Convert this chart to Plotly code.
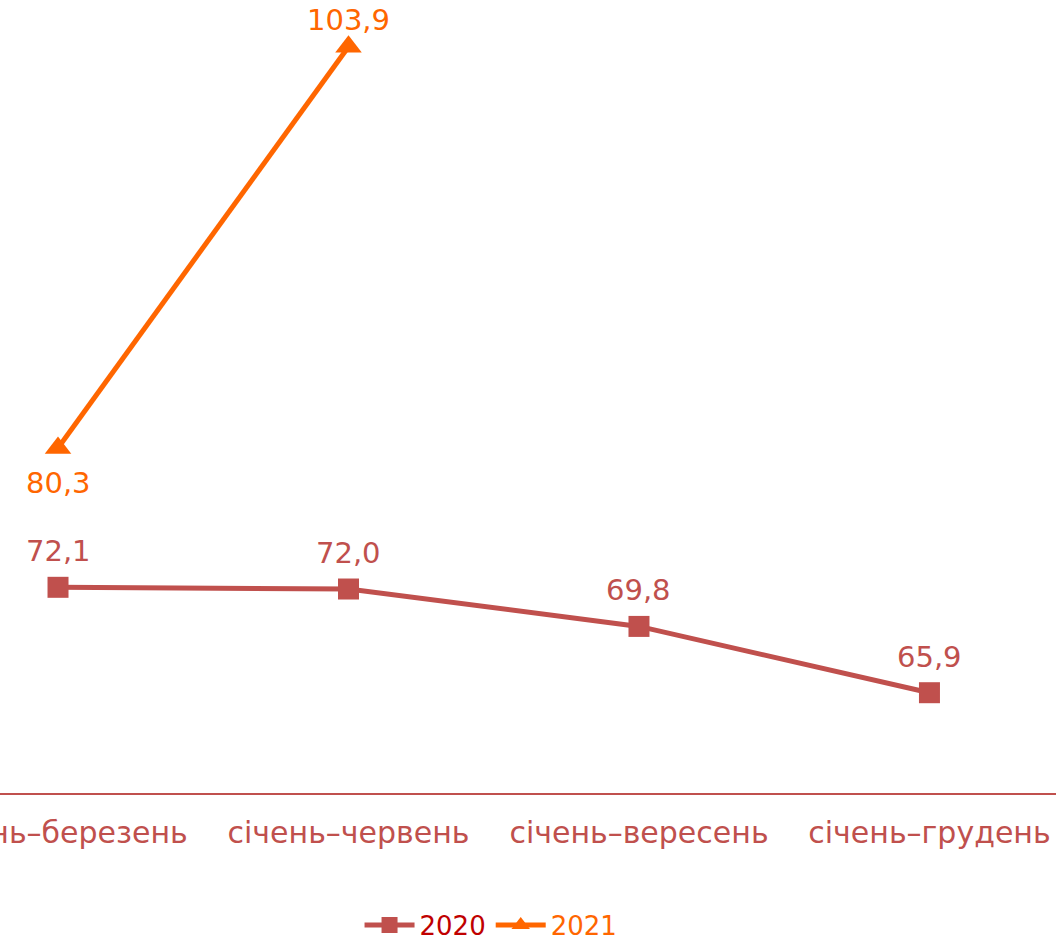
import plotly.graph_objects as go

# періоди
categories = ["січень–березень", "січень–червень", "січень–вересень", "січень–грудень"]
values_2020 = [72.1, 72.0, 69.8, 65.9]
values_2021 = [80.3, 103.9]

red = "#C0504D"
orange = "#FF6600"
font_family = "Verdana, DejaVu Sans, sans-serif"


def fmt(v):
    return f"{v:.1f}".replace(".", ",")


fig = go.Figure()

fig.add_trace(go.Scatter(
    x=categories, y=values_2020,
    name="<span style='color:#C00000'>2020</span>",
    mode="lines+markers",
    line=dict(color=red, width=5),
    marker=dict(symbol="square", size=21, color=red),
    cliponaxis=False,
))

fig.add_trace(go.Scatter(
    x=categories[:len(values_2021)], y=values_2021,
    name="<span style='color:#FF6600'>2021</span>",
    mode="lines+markers",
    line=dict(color=orange, width=5),
    marker=dict(symbol="triangle-up", size=23, color=orange),
    cliponaxis=False,
))

# підписи даних
for cat, v in zip(categories, values_2020):
    fig.add_annotation(x=cat, y=v, text=fmt(v), showarrow=False, yshift=36,
                       font=dict(color=red, size=29, family=font_family))
shifts_2021 = [-35, 27]
for cat, v, s in zip(categories, values_2021, shifts_2021):
    fig.add_annotation(x=cat, y=v, text=fmt(v), showarrow=False, yshift=s,
                       font=dict(color=orange, size=29, family=font_family))

fig.update_layout(
    width=1056, height=947,
    margin=dict(l=0, r=0, t=0, b=154),
    paper_bgcolor="white",
    plot_bgcolor="white",
    font=dict(family=font_family, size=26, color=red),
    showlegend=True,
    legend=dict(
        orientation="h",
        x=0.465, xanchor="center", xref="container",
        y=1 - 925 / 947, yanchor="middle", yref="container",
        font=dict(size=26),
        itemwidth=50,
    ),
    xaxis=dict(
        type="category",
        range=[-0.1997, 3.4356],
        automargin=False,
        showgrid=False,
        showline=True, linecolor=red, linewidth=2,
        ticks="outside", ticklen=12, tickcolor="rgba(0,0,0,0)",
        tickfont=dict(color=red, size=30),
    ),
    yaxis=dict(
        range=[60, 106.65],
        automargin=False,
        visible=False,
        showgrid=False,
        zeroline=False,
    ),
)

fig.write_html("out.html", config={"displayModeBar": False},
               post_script="document.body.style.margin = '0';")
